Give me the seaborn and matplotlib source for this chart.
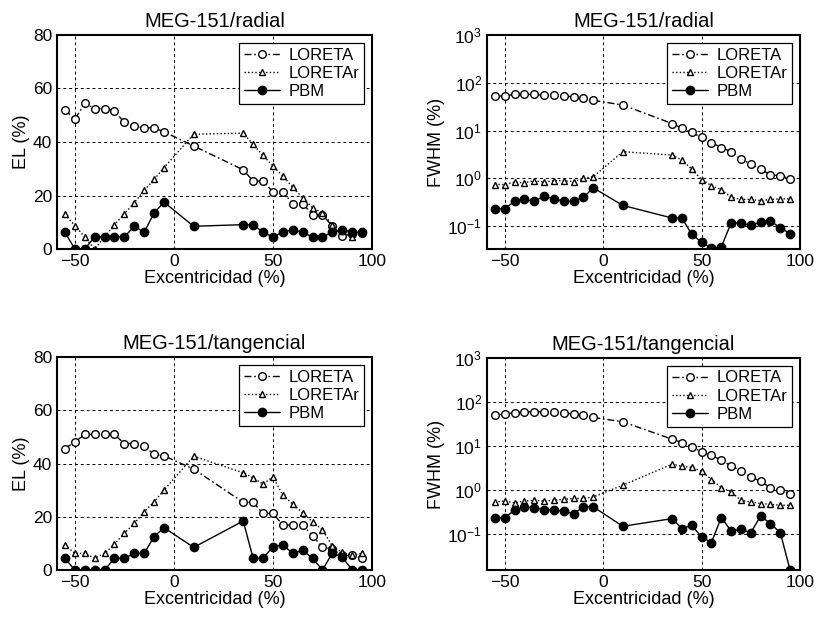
import matplotlib
matplotlib.use("Agg")
import matplotlib.pyplot as plt
import numpy as np
import pandas as pd
import seaborn as sns

# ---------------- data ----------------
excentricidad = [-55, -50, -45, -40, -35, -30, -25, -20, -15, -10, -5, 10,
                 35, 40, 45, 50, 55, 60, 65, 70, 75, 80, 85, 90, 95]

# MEG-151/radial  - EL (%)
rad_el_loreta = [52, 48.5, 54.4, 52.5, 52.5, 51.6, 47.3, 45.8, 45.3, 45.3, 43.8, 38.5,
                 29.6, 25.4, 25.4, 21.3, 21.3, 17, 17, 12.8, 12.8, 8.5, 5, 5.5, 6]
rad_el_loretar = [12.9, 8.75, 4.5, 0, 4.5, 9.1, 13.1, 17.3, 21.9, 26, 30.4, 42.9,
                  43.3, 39.1, 35, 31, 27.3, 23.1, 19.1, 15.4, 13.5, 9.1, 6.6, 4.5, 6]
rad_el_pbm = [6.25, 0, 0, 4.5, 4.5, 4.5, 4.5, 8.5, 6.25, 13.5, 17.5, 8.5,
              9.1, 9.1, 6.25, 4.5, 6.25, 7.25, 6.25, 4.5, 4.5, 6.25, 7.25, 6.25, 6.25]

# MEG-151/radial  - FWHM (%)
rad_fw_loreta = [52.7, 52.7, 57, 57, 57, 54.5, 54.5, 52.7, 50.4, 47.2, 42.8, 34.2,
                 14, 11.2, 9.1, 7.15, 5.6, 4.4, 3.6, 2.5, 2.0, 1.56, 1.17, 1.14, 0.97]
rad_fw_loretar = [0.74, 0.74, 0.83, 0.8, 0.89, 0.83, 0.89, 0.89, 0.85, 1.0, 1.08, 3.6,
                  3.06, 2.41, 1.56, 0.94, 0.70, 0.58, 0.40, 0.36, 0.36, 0.34, 0.36, 0.37, 0.37]
rad_fw_pbm = [0.23, 0.23, 0.33, 0.36, 0.33, 0.42, 0.37, 0.33, 0.33, 0.40, 0.63, 0.27,
              0.147, 0.147, 0.067, 0.046, 0.034, 0.0365, 0.115, 0.115, 0.103, 0.121, 0.127, 0.092, 0.069]

# MEG-151/tangencial - EL (%)
tan_el_loreta = [45.6, 48.1, 50.9, 50.9, 51.25, 50.9, 47.5, 47.5, 46.5, 43.4, 42.9, 37.9,
                 25.4, 25.4, 21.25, 21.25, 16.9, 16.9, 16.9, 12.9, 8.5, 7.9, 5.5, 5.5, 4.4]
tan_el_loretar = [9.4, 6.25, 6.25, 4.4, 6.25, 9.75, 13.75, 17.5, 21.9, 25.6, 30, 42.75,
                  36.5, 34.6, 32.25, 35, 28.1, 24.75, 21.5, 18.1, 15.1, 8.9, 6.6, 5.5, 6.25]
tan_el_pbm = [4.4, 0, 0, 0, 0, 4.4, 4.4, 6.25, 6.25, 12.5, 15.9, 8.5,
              18.4, 4.4, 4.4, 8.75, 9.4, 6.25, 7.4, 4.4, 0, 6.4, 4.8, 0, 0]

# MEG-151/tangencial - FWHM (%)
tan_fw_loreta = [50.7, 53.4, 57.2, 60.3, 60.3, 60.3, 60.3, 57.2, 53.4, 50.7, 44.8, 35.7,
                 14.4, 12.1, 9.7, 7.4, 6.2, 4.8, 3.57, 2.75, 2.0, 1.6, 1.13, 1.0, 0.84]
tan_fw_loretar = [0.54, 0.57, 0.52, 0.57, 0.59, 0.57, 0.59, 0.62, 0.65, 0.65, 0.705, 1.3,
                  3.9, 3.5, 3.3, 2.7, 1.75, 1.15, 0.92, 0.59, 0.54, 0.50, 0.48, 0.456, 0.456]
tan_fw_pbm = [0.24, 0.24, 0.35, 0.42, 0.40, 0.36, 0.36, 0.33, 0.295, 0.42, 0.42, 0.152,
              0.227, 0.135, 0.16, 0.087, 0.065, 0.24, 0.119, 0.13, 0.109, 0.26, 0.175, 0.109, 0.0152]

series_names = ["LORETA", "LORETAr", "PBM"]
titles = ["MEG-151/radial", "MEG-151/radial", "MEG-151/tangencial", "MEG-151/tangencial"]
xlabel = "Excentricidad (%)"
ylabels = ["EL (%)", "FWHM (%)", "EL (%)", "FWHM (%)"]

# ---------------- style ----------------
sns.set_style("white")
plt.rcParams["font.family"] = ["Liberation Sans", "DejaVu Sans"]
plt.rcParams["mathtext.default"] = "regular"
plt.rcParams["mathtext.fontset"] = "custom"
plt.rcParams["mathtext.rm"] = "Liberation Sans"
for k in ["text.color", "axes.labelcolor", "xtick.color", "ytick.color", "axes.edgecolor"]:
    plt.rcParams[k] = "black"

fig = plt.figure(figsize=(8.2, 6.19), dpi=100)
W, H = 820, 619
boxes = [(57, 35, 372, 249), (487, 35, 800, 249), (57, 357, 372, 570), (487, 358, 800, 570)]
axes = [fig.add_axes([l / W, 1 - b / H, (r - l) / W, (b - t) / H]) for (l, t, r, b) in boxes]

panels = [
    (rad_el_loreta, rad_el_loretar, rad_el_pbm, False),
    (rad_fw_loreta, rad_fw_loretar, rad_fw_pbm, True),
    (tan_el_loreta, tan_el_loretar, tan_el_pbm, False),
    (tan_fw_loreta, tan_fw_loretar, tan_fw_pbm, True),
]

styles = [
    dict(linestyle=(0, (5, 2, 1.2, 2)), marker="o", markersize=5.5, markerfacecolor="white"),
    dict(linestyle=(0, (1, 1.6)), marker="^", markersize=5, markerfacecolor="white"),
    dict(linestyle="-", marker="o", markersize=6, markerfacecolor="black"),
]

for i, (ax, (lo, lor, pbm, logy)) in enumerate(zip(axes, panels)):
    for name, vals, st in zip(series_names, [lo, lor, pbm], styles):
        df = pd.DataFrame({"x": excentricidad, "y": vals})
        sns.lineplot(data=df, x="x", y="y", ax=ax, color="black", lw=1.0,
                     markeredgecolor="black", markeredgewidth=1.0,
                     label=name, sort=False, estimator=None, **st)
    ax.set_xlim(-59, 100)
    ax.set_xticks([-50, 0, 50, 100])
    if logy:
        ax.set_yscale("log")
        ax.set_ylim(0.033 if i == 1 else 0.0155, 1000)
        ax.set_yticks([0.1, 1, 10, 100, 1000])
    else:
        ax.set_ylim(0, 80)
        ax.set_yticks([0, 20, 40, 60, 80])
    ax.grid(True, which="major", linestyle=(0, (3, 3)), color="black", lw=0.7)
    ax.grid(False, which="minor")
    ax.tick_params(which="major", direction="in", length=4, labelsize=12.5, colors="black")
    ax.tick_params(which="minor", direction="in", length=2)
    for sp in ax.spines.values():
        sp.set_visible(True)
        sp.set_color("black")
        sp.set_linewidth(1.5)
    ax.set_title(titles[i], fontsize=14.5, pad=6, color="black")
    ax.set_xlabel(xlabel, fontsize=13, labelpad=1, color="black")
    ax.set_ylabel(ylabels[i], fontsize=13, labelpad=2, color="black")
    leg = ax.legend(loc="upper right", frameon=True, fancybox=False, edgecolor="black",
                    framealpha=1, fontsize=12, handlelength=2.2, borderaxespad=0.45,
                    labelspacing=0.2, borderpad=0.3, handletextpad=0.5)
    leg.get_frame().set_linewidth(0.9)

fig.savefig("out.png", dpi=100)
